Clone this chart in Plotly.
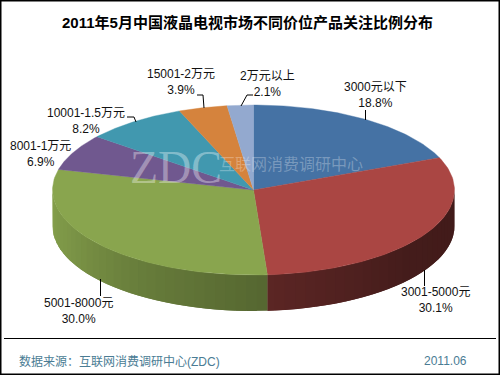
import numpy as np
import plotly.graph_objects as go

title = "2011年5月中国液晶电视市场不同价位产品关注比例分布"
categories = ["3000元以下", "3001-5000元", "5001-8000元", "8001-1万元",
              "10001-1.5万元", "15001-2万元", "2万元以上"]
shares = [18.8, 30.1, 30.0, 6.9, 8.2, 3.9, 2.1]
colors = ["#4572A4", "#AA4643", "#89A54E", "#70588F", "#4198AF", "#D5833D", "#93A9CF"]
source_text = "数据来源：互联网消费调研中心(ZDC)"
date_text = "2011.06"

CX, CY, RX, RY, DEPTH = 253.5, 190.0, 201.0, 85.0, 36.0
CJK = "Liberation Sans, Noto Sans CJK SC, sans-serif"

def ell(a):
    return CX + RX * np.sin(a), CY - RY * np.cos(a)

fig = go.Figure()
edges = np.deg2rad(np.concatenate([[0], np.cumsum(shares)]) * 3.6)

def shade(hexc, f):
    r, g, b = [int(hexc[i:i + 2], 16) for i in (1, 3, 5)]
    return f"rgb({r*f:.0f},{g*f:.0f},{b*f:.0f})"

# side wall: overlapping strips within each visible slice
wall_end = np.deg2rad(270.0)
wall_step = np.deg2rad(3.0)
for idx, start, stop in [(1, np.deg2rad(90.0), edges[2]), (2, edges[2], wall_end)]:
    a0 = start
    while a0 < stop - 1e-9:
        a1 = min(a0 + wall_step, stop)
        deg = np.rad2deg((a0 + a1) / 2)
        if idx == 1:
            f = np.interp(deg, [90, 130, 176], [0.38, 0.40, 0.54])
        else:
            f = np.interp(deg, [176, 215, 245, 270], [0.62, 0.76, 0.90, 0.97])
        col = shade(colors[idx], f)
        arc = np.linspace(a0, min(a1 + wall_step, stop), 8)
        xs, ys = ell(arc)
        fig.add_trace(go.Scatter(
            x=np.r_[xs, xs[::-1]], y=np.r_[ys, ys[::-1] + DEPTH],
            mode="lines", fill="toself", fillcolor=col,
            line=dict(color=col, width=0), hoverinfo="skip", showlegend=False))
        a0 = a1

# top face
for i, c in enumerate(colors):
    arc = np.linspace(edges[i], edges[i + 1], 80)
    xs, ys = ell(arc)
    fig.add_trace(go.Scatter(
        x=np.r_[CX, xs, CX], y=np.r_[CY, ys, CY],
        mode="lines", fill="toself", fillcolor=c,
        line=dict(color=c, width=0.4), hoverinfo="skip", showlegend=False))

# leader lines and labels: label centre, leader polyline
label_pos = [(375, 94.5), (435, 300), (78, 310.5), (40, 153.5), (86, 120.5), (181, 81.5), (267, 83.5)]
leaders = [[(365.5, 110), (365.5, 120)],
           [(424.5, 270), (424.5, 286)],
           [(100.5, 279), (100.5, 296)],
           None,
           [(127, 117), (134, 117), (136, 122)],
           [(197, 95), (203, 95), (204, 108)],
           [(253, 95), (247, 95), (241, 106)]]
for (lx, ly), name, v, ld in zip(label_pos, categories, shares, leaders):
    if ld:
        fig.add_trace(go.Scatter(x=[p[0] for p in ld], y=[p[1] for p in ld], mode="lines",
                                 line=dict(color="#000000", width=1),
                                 hoverinfo="skip", showlegend=False))
    fig.add_annotation(x=lx, y=ly, text=f"{name}<br>{v:.1f}%", showarrow=False,
                       font=dict(family=CJK, size=12, color="#111111"), align="center")

# watermark
fig.add_annotation(x=176, y=167, text="ZDC", showarrow=False,
                   font=dict(family="Liberation Serif, serif", size=46, color="rgba(255,255,255,0.36)"))
fig.add_annotation(x=291, y=163, text="互联网消费调研中心", showarrow=False,
                   font=dict(family="Noto Sans CJK SC", size=16, color="rgba(255,255,255,0.28)"))

fig.add_annotation(x=247, y=22, text=f"<b>{title}</b>", showarrow=False,
                   font=dict(family=CJK, size=15, color="#000000"))
fig.add_annotation(x=17, y=361, text=source_text, showarrow=False, xanchor="left",
                   font=dict(family=CJK, size=12, color="#4A7C94"))
fig.add_annotation(x=445, y=361, text=date_text, showarrow=False,
                   font=dict(family=CJK, size=12, color="#4A7C94"))

fig.add_shape(type="rect", x0=0.5, y0=0.5, x1=499.5, y1=374.5, line=dict(color="#000000", width=2))
fig.add_shape(type="line", x0=4, y0=338.5, x1=496, y1=338.5, line=dict(color="#000000", width=1))

fig.update_layout(width=500, height=375, margin=dict(l=0, r=0, t=0, b=0),
                  paper_bgcolor="#FFFFFF", plot_bgcolor="#FFFFFF", showlegend=False,
                  xaxis=dict(range=[0, 500], visible=False, fixedrange=True),
                  yaxis=dict(range=[375, 0], visible=False, fixedrange=True))
fig.write_html("out.html", config=dict(displayModeBar=False),
               post_script="document.body.style.margin='0';document.documentElement.style.overflow='hidden';")
